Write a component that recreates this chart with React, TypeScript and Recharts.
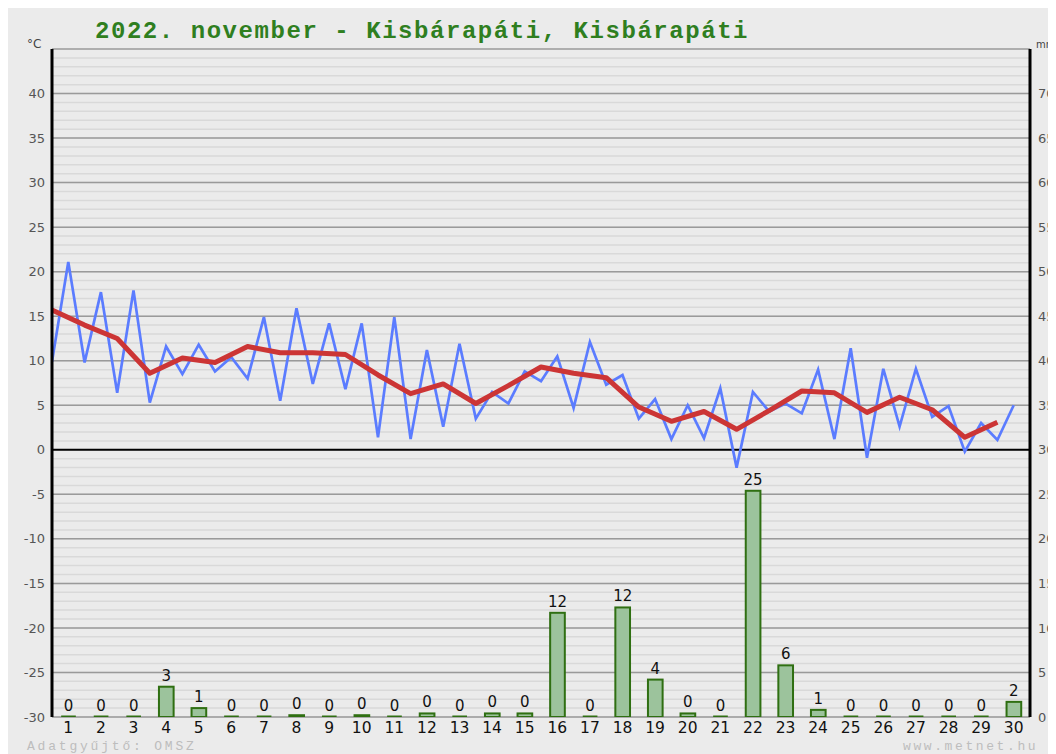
import React from "react";
import {
  ComposedChart,
  Bar,
  Line,
  XAxis,
  YAxis,
  CartesianGrid,
  ReferenceLine,
  LabelList,
} from "recharts";

const days = [1, 2, 3, 4, 5, 6, 7, 8, 9, 10, 11, 12, 13, 14, 15, 16, 17, 18, 19, 20, 21, 22, 23, 24, 25, 26, 27, 28, 29, 30];
const tMin = [9.9, 9.8, 6.4, 5.3, 8.5, 8.8, 8.0, 5.5, 7.4, 6.8, 1.4, 1.2, 2.6, 3.5, 5.2, 7.7, 4.7, 7.3, 3.5, 1.2, 1.3, -2.0, 4.3, 4.1, 1.2, -0.9, 2.6, 3.7, -0.2, 1.1];
const tMax = [21.1, 17.7, 17.9, 11.6, 11.8, 10.4, 14.9, 15.9, 14.2, 14.2, 14.9, 11.2, 11.9, 6.5, 8.8, 10.5, 12.1, 8.4, 5.7, 5.0, 6.9, 6.5, 5.2, 9.0, 11.4, 9.1, 9.1, 4.9, 3.0, 5.0];
const tAvg = [15.7, 14.0, 12.5, 8.6, 10.3, 9.8, 11.6, 10.9, 10.9, 10.7, 8.4, 6.3, 7.4, 5.2, 7.2, 9.3, 8.6, 8.1, 4.8, 3.2, 4.3, 2.3, 4.4, 6.6, 6.4, 4.2, 5.9, 4.5, 1.4, 3.1];
const rain = [0, 0, 0, 3.4, 1.0, 0, 0, 0.2, 0, 0.2, 0, 0.4, 0, 0.4, 0.4, 11.7, 0, 12.3, 4.2, 0.4, 0, 25.4, 5.8, 0.8, 0, 0, 0, 0, 0, 1.7];

const tempTicks = [-30, -25, -20, -15, -10, -5, 0, 5, 10, 15, 20, 25, 30, 35, 40];
const mmTicks = [0, 5, 10, 15, 20, 25, 30, 35, 40, 45, 50, 55, 60, 65, 70];
const majorGrid = [-25, -20, -15, -10, -5, 5, 10, 15, 20, 25, 30, 35, 40, 45, -30];
const minorGrid = Array.from({ length: 75 }, (_, i) => i - 30);

const titleText = "2022. november - Kisbárapáti, Kisbárapáti";

const barData = days.map((d, i) => ({ x: d - 0.5, rain: rain[i] }));
const blueData = days.flatMap((d, i) => [
  { x: d - 1, t: tMin[i] },
  { x: d - 0.5, t: tMax[i] },
]);
const redData = days.map((d, i) => ({ x: d - 1, avg: tAvg[i] }));
const xTicks = days.map((d) => d - 0.5);

const RainBar = (p: any) => {
  const { x, y, width, height } = p;
  if (x == null || y == null) return <g />;
  if (!(height > 0.6)) {
    return (
      <line x1={x} x2={x + width} y1={y + (height || 0) - 0.5} y2={y + (height || 0) - 0.5} stroke="#2f6f12" strokeWidth={2} />
    );
  }
  return (
    <rect x={x} y={y} width={width} height={height} fill="#9cc39c" stroke="#2f6f12" strokeWidth={2} />
  );
};

export default function App() {
  const W = 1048;
  const H = 746;
  return (
    <div
      style={{
        position: "relative",
        width: W,
        height: H,
        background: "#ebebeb",
        fontFamily: "'DejaVu Sans', Verdana, sans-serif",
        overflow: "hidden",
      }}
    >
      <ComposedChart
        width={W}
        height={H}
        data={barData}
        margin={{ top: 41, right: 0, bottom: 0, left: 0 }}
      >
        <CartesianGrid
          yAxisId="t"
          vertical={false}
          horizontalValues={minorGrid}
          stroke="#d9d9d9"
          strokeWidth={1.5}
        />
        <CartesianGrid
          yAxisId="t"
          vertical={false}
          horizontalValues={majorGrid}
          stroke="#9a9a9a"
          strokeWidth={1.5}
        />
        <XAxis
          dataKey="x"
          type="number"
          domain={[0, 30]}
          ticks={xTicks}
          interval={0}
          tickFormatter={(v: number) => String(v + 0.5)}
          axisLine={false}
          tickLine={false}
          height={37}
          tick={{ fill: "#111", fontSize: 15.5 }}
          tickSize={3}
          tickMargin={2}
          allowDataOverflow
        />
        <YAxis
          yAxisId="t"
          orientation="left"
          domain={[-30, 45]}
          ticks={tempTicks}
          interval={0}
          width={44}
          axisLine={{ stroke: "#000", strokeWidth: 3 }}
          tickLine={false}
          tickSize={5}
          tickMargin={2}
          tick={{ fill: "#555", fontSize: 13 }}
          allowDataOverflow
        />
        <YAxis
          yAxisId="mm"
          orientation="right"
          domain={[0, 75]}
          ticks={mmTicks}
          interval={0}
          width={26}
          axisLine={{ stroke: "#000", strokeWidth: 3 }}
          tickLine={false}
          tickSize={6}
          tickMargin={2}
          tick={{ fill: "#555", fontSize: 13, textAnchor: "start" }}
          allowDataOverflow
        />
        <ReferenceLine yAxisId="t" y={0} stroke="#000" strokeWidth={2} />
        <Bar
          yAxisId="mm"
          dataKey="rain"
          barSize={24}
          shape={RainBar}
          isAnimationActive={false}
        >
          <LabelList
            dataKey="rain"
            position="top"
            offset={6}
            formatter={(v: any) => String(Math.round(Number(v)))}
            fill="#111"
            fontSize={15}
          />
        </Bar>
        <Line
          yAxisId="t"
          data={blueData}
          dataKey="t"
          stroke="#5b7cff"
          strokeWidth={2.7}
          dot={false}
          activeDot={false}
          type="linear"
          isAnimationActive={false}
        />
        <Line
          yAxisId="t"
          data={redData}
          dataKey="avg"
          stroke="#cc3535"
          strokeWidth={5}
          strokeLinejoin="round"
          dot={false}
          activeDot={false}
          type="linear"
          isAnimationActive={false}
        />
      </ComposedChart>
      <svg
        width={W}
        height={H}
        style={{ position: "absolute", left: 0, top: 0, pointerEvents: "none" }}
      >
        <text
          x={87}
          y={30}
          fill="#2f7f1f"
          fontSize={24}
          fontWeight="bold"
          letterSpacing={1.55}
          style={{ fontFamily: "'Liberation Mono', 'Courier New', monospace" }}
        >
          {titleText}
        </text>
        <text x={19} y={40} fill="#444" fontSize={12}>°C</text>
        <text x={1028} y={40} fill="#444" fontSize={10}>mm</text>
        <text
          x={19}
          y={742}
          fill="#bdbdbd"
          fontSize={13}
          letterSpacing={2.8}
          style={{ fontFamily: "'Liberation Mono', 'Courier New', monospace" }}
        >
          Adatgyűjtő: OMSZ
        </text>
        <text
          x={895}
          y={742}
          fill="#bdbdbd"
          fontSize={13}
          letterSpacing={2.6}
          style={{ fontFamily: "'Liberation Mono', 'Courier New', monospace" }}
        >
          www.metnet.hu
        </text>
      </svg>
    </div>
  );
}
